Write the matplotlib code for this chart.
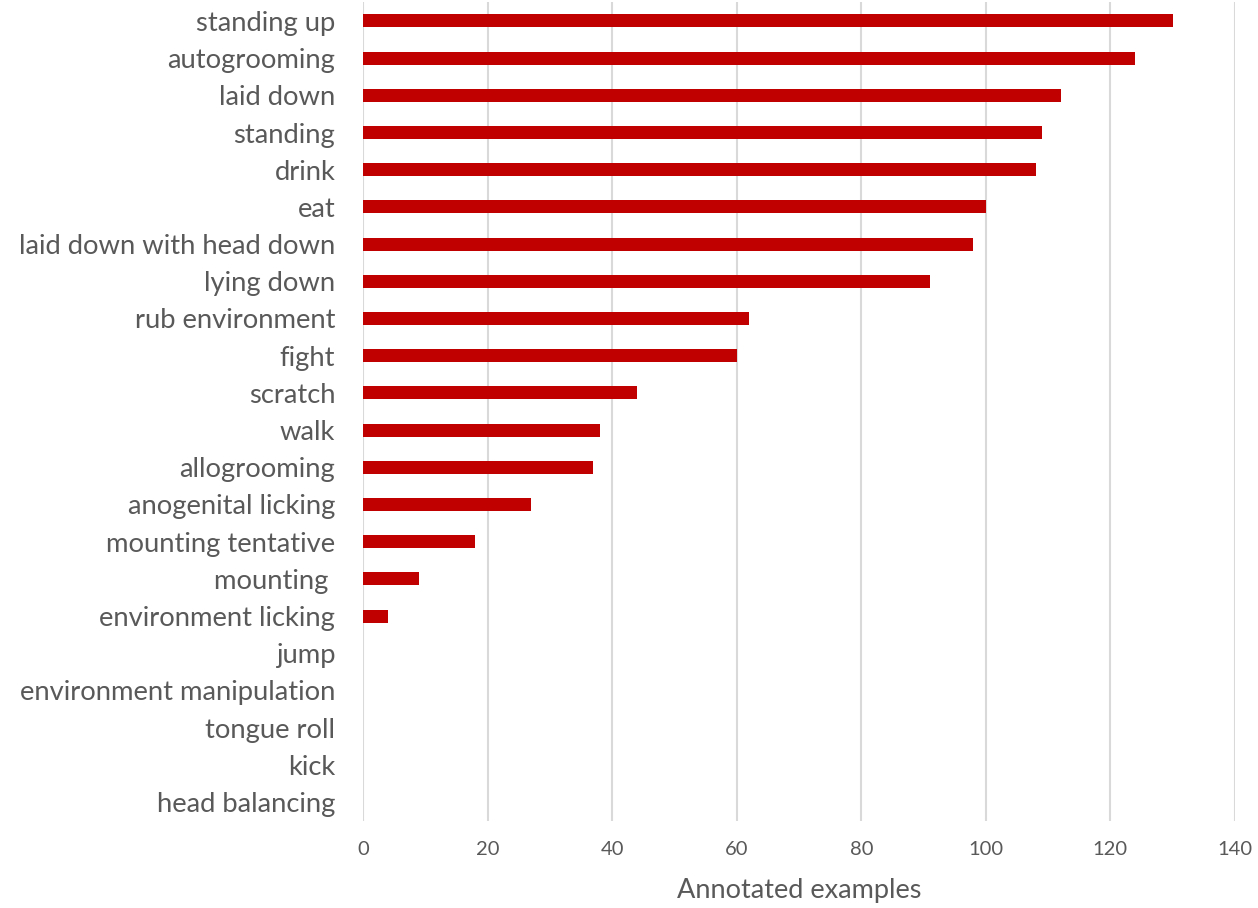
import matplotlib
matplotlib.use("Agg")
from matplotlib import pyplot as plt
import numpy as np

behaviours = ["standing up", "autogrooming", "laid down", "standing", "drink", "eat",
              "laid down with head down", "lying down", "rub environment", "fight",
              "scratch", "walk", "allogrooming", "anogenital licking",
              "mounting tentative", "mounting ", "environment licking", "jump",
              "environment manipulation", "tongue roll", "kick", "head balancing"]
counts = [130, 124, 112, 109, 108, 100, 98, 91, 62, 60, 44, 38, 37, 27, 18, 9, 4,
          0, 0, 0, 0, 0]
x_ticks = [0, 20, 40, 60, 80, 100, 120, 140]

plt.rcParams['font.family'] = ['Lato', 'DejaVu Sans']
grey = '#595959'

fig = plt.figure(figsize=(12.58, 9.08), dpi=100)
ax = fig.add_axes([0.2886, 0.0963, 0.6931, 0.9011])

pos = np.arange(len(behaviours))
ax.barh(pos, counts, height=0.35, color='#c00000', zorder=3)

ax.set_ylim(len(behaviours) - 0.5, -0.5)
ax.set_xlim(0, 140)
ax.set_xticks(x_ticks)
ax.set_yticks(pos)
ax.set_yticklabels(behaviours)

ax.tick_params(axis='y', length=0, pad=20, labelsize=19.7, labelcolor=grey)
ax.tick_params(axis='x', length=0, pad=15, labelsize=14.5, labelcolor=grey)

ax.grid(axis='x', color='#d9d9d9', linewidth=1.5, zorder=0)
for s in ax.spines.values():
    s.set_visible(False)

ax.set_xlabel('Annotated examples', fontsize=19.5, color=grey, labelpad=14)

fig.savefig('out.png', dpi=100)
